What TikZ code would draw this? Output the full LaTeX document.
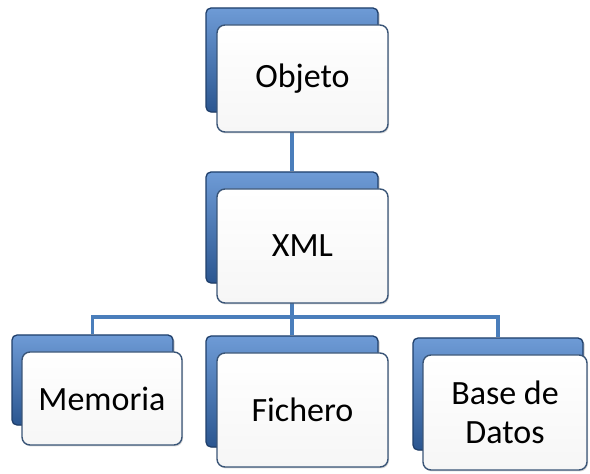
\documentclass[tikz,border=0pt]{standalone}
\usepackage{fontspec}
\setmainfont{Carlito}
\usetikzlibrary{shadows,backgrounds}
\definecolor{lineblue}{HTML}{4A7EBB}
\definecolor{backdark}{HTML}{1F3F6B}
\definecolor{backtop}{HTML}{6E9BD6}
\definecolor{backbot}{HTML}{2B5690}
\definecolor{frontedge}{HTML}{3A5577}
\tikzset{
  backbox/.style={rectangle, rounded corners=5pt, draw=backdark, line width=1.3pt,
    top color=backtop, bottom color=backbot, inner sep=0pt,
    drop shadow={shadow xshift=1.5pt, shadow yshift=-1pt, opacity=0.4}},
  frontbox/.style={rectangle, rounded corners=8pt, draw=frontedge, line width=1.4pt,
    top color=white, bottom color=gray!7, inner sep=0pt,
    font=\fontsize{34}{39}\selectfont, align=center,
    drop shadow={shadow xshift=1pt, shadow yshift=-1.5pt, opacity=0.3}},
  conn/.style={draw=lineblue, line width=3.8pt},
}
\begin{document}
\begin{tikzpicture}[x=1pt,y=1pt]
\useasboundingbox (0,0) rectangle (590,474);
% Objeto
\node[backbox, minimum width=172pt, minimum height=104pt] (objb) at (292,414) {};
\node[frontbox, minimum width=171pt, minimum height=107pt] (obj) at (302.5,395.5) {Objeto};
% XML
\node[backbox, minimum width=172pt, minimum height=111pt] (xmlb) at (292,246.5) {};
\node[frontbox, minimum width=171pt, minimum height=114pt] (xml) at (302.5,228) {XML};
% Memoria
\node[backbox, minimum width=161pt, minimum height=90pt] (memb) at (92.5,94) {};
\node[frontbox, minimum width=160pt, minimum height=93pt] (mem) at (102,75.5) {Memoria};
% Fichero
\node[backbox, minimum width=172pt, minimum height=111pt] (ficb) at (292,82.5) {};
\node[frontbox, minimum width=171pt, minimum height=114pt] (fic) at (302.5,64) {Fichero};
% Base de Datos
\node[backbox, minimum width=170pt, minimum height=112pt] (basb) at (498,80) {};
\node[frontbox, minimum width=164pt, minimum height=115pt] (bas) at (505,61.5) {Base de\\Datos};
\coordinate (bus) at (292,157);
\begin{pgfonlayer}{background}
\draw[conn] (objb.south) -- (xmlb.north);
\draw[conn] (xmlb.south) -- (bus);
\draw[conn] (memb.north) |- (bus) -| (basb.north);
\draw[conn] (bus) -- (ficb.north);
\end{pgfonlayer}
\end{tikzpicture}
\end{document}
